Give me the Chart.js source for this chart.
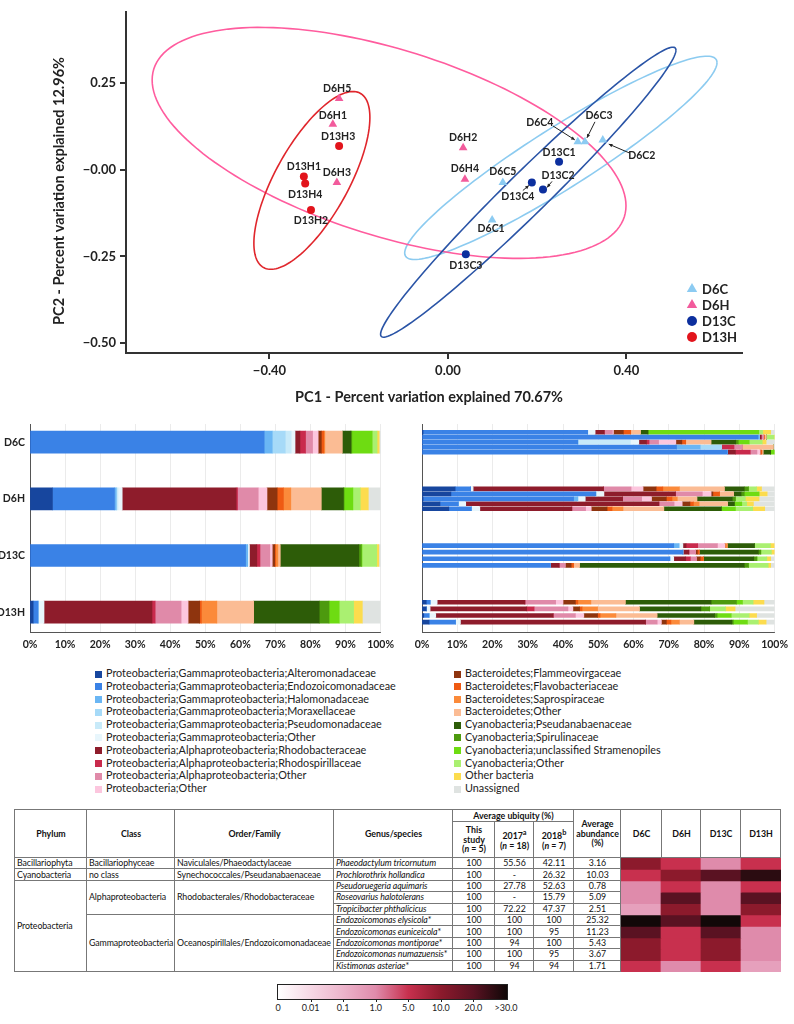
<!DOCTYPE html>
<html>
<head>
<meta charset="utf-8">
<script src="https://cdn.jsdelivr.net/npm/chart.js@4.4.1/dist/chart.umd.min.js"></script>
<style>
  body { margin: 0; background: #fff; font-family: Lato, "Open Sans", sans-serif; }
  #page { position: relative; width: 794px; height: 1024px; overflow: hidden; }
  #page canvas { position: absolute; }
  .leg { position: absolute; top: 667px; font-size: 10.8px; color: #222; }
  .leg div { height: 12.8px; line-height: 12.8px; white-space: nowrap; }
  .leg .sw { display: inline-block; width: 7px; height: 7px; margin-right: 4px; vertical-align: -0.5px; }
  #tbl { position: absolute; left: 14px; top: 809px; width: 766px; border-collapse: collapse; table-layout: fixed;
         font-size: 8.8px; letter-spacing: -0.1px; color: #111; border: 1.5px solid #777; }
  #tbl td, #tbl th { border: 1px solid #777; padding: 0 1px 0 2px; line-height: 9.8px; white-space: nowrap; overflow: visible; }
  #tbl th { font-weight: bold; text-align: center; font-size: 8.8px; letter-spacing: 0; }
  #tbl td.n { text-align: center; letter-spacing: 0; }
  #tbl tr.d { height: 11.4px; }
  #tbl td.heat { border: none; padding: 0; }
  #cbar { position: absolute; left: 277px; top: 984px; width: 229px; height: 14px; border: 1px solid #222; }
  #cbarTicks { position: absolute; left: 0; top: 999px; width: 794px; height: 20px; }
  #cbarTicks span { position: absolute; top: 2px; font-size: 9px; color: #222; transform: translateX(-50%); }
  #cbarTicks i { position: absolute; top: 0; width: 1px; height: 3px; background: #222; }
</style>
</head>
<body>
<div id="page">
  <canvas id="pca" width="794" height="410" style="left:0;top:0"></canvas>
  <canvas id="barMean" width="400" height="250" style="left:0;top:410px"></canvas>
  <canvas id="barRep" width="394" height="250" style="left:400px;top:410px"></canvas>
  <div class="leg" id="legL" style="left:95px"></div>
  <div class="leg" id="legR" style="left:454px"></div>
  <table id="tbl"></table>
  <canvas id="heat"></canvas>
  <div id="cbar"></div>
  <div id="cbarTicks"></div>
</div>
<script>
Chart.defaults.font.family = 'Lato, sans-serif';
Chart.defaults.color = '#222';

// ---- PCA data ----
const d6cIds = ['D6C1', 'D6C2', 'D6C3', 'D6C4', 'D6C5'];
const d6cPC1 = [0.099, 0.347, 0.307, 0.291, 0.123];
const d6cPC2 = [-0.145, 0.085, 0.080, 0.080, -0.037];
const d6hIds = ['D6H1', 'D6H2', 'D6H3', 'D6H4', 'D6H5'];
const d6hPC1 = [-0.258, 0.034, -0.249, 0.038, -0.244];
const d6hPC2 = [0.131, 0.063, -0.037, -0.028, 0.205];
const d13cIds = ['D13C1', 'D13C2', 'D13C3', 'D13C4'];
const d13cPC1 = [0.249, 0.213, 0.040, 0.188];
const d13cPC2 = [0.023, -0.057, -0.244, -0.037];
const d13hIds = ['D13H1', 'D13H2', 'D13H3', 'D13H4'];
const d13hPC1 = [-0.323, -0.307, -0.244, -0.320];
const d13hPC2 = [-0.020, -0.116, 0.068, -0.040];

// ellipses: [centerX, centerY, u.x, u.y, v.x, v.y] (conjugate half axes, data units)
const ellipseD6C = [0.253, 0.034, 0.350, 0.274, 0, 0.103];
const ellipseD6H = [-0.132, 0.077, 0.531, -0.181, 0, 0.279];
const ellipseD13C = [0.180, -0.065, 0.331, 0.409, 0, 0.084];
const ellipseD13H = [-0.305, -0.031, 0.130, 0.181, 0, 0.181];

const pcaXTicks = [-0.4, 0, 0.4];
const pcaXTickLabels = ['\u22120.40', '0.00', '0.40'];
const pcaYTicks = [0.25, 0, -0.25, -0.5];
const pcaYTickLabels = ['0.25', '\u22120.00', '\u22120.25', '\u22120.50'];
const pcaXTitle = 'PC1 - Percent variation explained 70.67%';
const pcaYTitle = 'PC2 - Percent variation explained 12.96%';

// ---- taxa bar data ----
const taxa = [
  'Proteobacteria;Gammaproteobacteria;Alteromonadaceae',
  'Proteobacteria;Gammaproteobacteria;Endozoicomonadaceae',
  'Proteobacteria;Gammaproteobacteria;Halomonadaceae',
  'Proteobacteria;Gammaproteobacteria;Moraxellaceae',
  'Proteobacteria;Gammaproteobacteria;Pseudomonadaceae',
  'Proteobacteria;Gammaproteobacteria;Other',
  'Proteobacteria;Alphaproteobacteria;Rhodobacteraceae',
  'Proteobacteria;Alphaproteobacteria;Rhodospirillaceae',
  'Proteobacteria;Alphaproteobacteria;Other',
  'Proteobacteria;Other',
  'Bacteroidetes;Flammeovirgaceae',
  'Bacteroidetes;Flavobacteriaceae',
  'Bacteroidetes;Saprospiraceae',
  'Bacteroidetes;Other',
  'Cyanobacteria;Pseudanabaenaceae',
  'Cyanobacteria;Spirulinaceae',
  'Cyanobacteria;unclassified Stramenopiles',
  'Cyanobacteria;Other',
  'Other bacteria',
  'Unassigned'
];
const taxaColors = ['#17469e', '#3a82e6', '#6ab6f4', '#a6daf8', '#c8eaf9', '#e8f6fc',
  '#8e1c2b', '#c92a4c', '#e08aa9', '#fcc6de',
  '#8e340e', '#ef5a12', '#fb8a3a', '#fbbc94',
  '#2d5c08', '#4d9a0e', '#6edc12', '#aaf071', '#fcdc4e', '#dfe3e1'];

const groups = ['D6C', 'D6H', 'D13C', 'D13H'];
const meanD6C = [0, 66.8, 2.3, 3.7, 1.7, 1.1, 1.4, 1.6, 2.0, 1.6, 0.9, 0.7, 0.3, 5.0, 2.4, 0.3, 5.8, 1.4, 0.6, 0.4];
const meanD6H = [6.4, 17.7, 0.5, 0, 0.5, 1.2, 32.5, 0.4, 5.9, 2.5, 2.9, 1.8, 2.1, 8.7, 6.3, 0.2, 2.5, 2.1, 2.3, 3.5];
const meanD13C = [0, 61.5, 0.6, 0, 0, 0.5, 2.1, 0.9, 2.8, 0.7, 0.7, 0.3, 0.6, 0.7, 22.4, 0.7, 0.2, 4.2, 0.6, 0.6];
const meanD13H = [0.9, 1.4, 0, 0, 0, 1.7, 30.8, 0.9, 7.4, 2.0, 3.3, 0.5, 4.4, 10.5, 18.7, 2.8, 2.9, 4.1, 2.5, 5.2];

const repD6C = [
  [0.3, 46.7, 0, 0, 0, 2.1, 2.6, 0, 2.3, 0.3, 2.8, 2.1, 0, 2.8, 2.1, 0, 31.4, 1.1, 2.3, 1.2],
  [0, 95.3, 0.4, 0, 0, 0, 0.5, 0, 0.6, 0, 0, 0.3, 0, 0.6, 0, 0, 0, 2.2, 0.2, 0],
  [0, 44.2, 0, 0, 14.9, 2.4, 2.2, 0.7, 2.7, 4.9, 1.7, 1.1, 0, 7.2, 7.0, 0.7, 3.1, 3.7, 1.1, 2.4],
  [0, 72.2, 6.7, 6.1, 0, 0, 0, 3.5, 2.3, 0, 0, 0, 0, 8.9, 0, 0, 0, 0, 0, 0.3],
  [0, 86.6, 0, 0, 0, 0, 2.3, 4.2, 1.9, 0.9, 0, 0.5, 0, 0.4, 2.1, 0, 1.2, 0, 0, 0]
];
const repD6H = [
  [9.4, 4.4, 0, 0, 0, 0.7, 37.0, 0, 7.8, 3.4, 3.7, 1.9, 4.7, 12.8, 5.6, 1.2, 0, 2.3, 1.4, 3.7],
  [8.2, 41.1, 0, 0, 0, 2.3, 20.3, 0, 7.6, 2.5, 0.5, 1.9, 0, 4.0, 2.1, 0.9, 4.2, 0, 2.3, 2.1],
  [0.3, 42.7, 1.2, 0, 0, 2.1, 10.6, 0, 5.4, 2.8, 4.2, 1.6, 1.5, 5.6, 10.0, 0.9, 0, 2.8, 3.9, 4.3],
  [5.1, 5.2, 0, 0, 0, 2.1, 54.8, 0, 4.3, 2.3, 2.2, 1.0, 1.6, 8.1, 1.9, 0, 2.1, 1.4, 1.9, 5.9],
  [7.6, 6.4, 0, 0, 0, 2.4, 26.1, 0, 3.9, 1.6, 4.5, 1.4, 3.1, 11.6, 16.3, 0, 4.0, 4.9, 3.4, 2.8]
];
const repD13C = [
  [0, 71.4, 1.5, 0, 0, 1.1, 0.9, 3.3, 5.6, 2.1, 0, 0, 0.7, 0, 7.7, 0, 0, 4.5, 1.2, 0],
  [0, 74.0, 0, 0, 0, 0, 1.7, 0, 1.9, 0, 0.5, 0.5, 0, 0, 16.8, 0.7, 0, 3.0, 1.0, 0],
  [0, 70.3, 0, 0, 0, 1.1, 3.4, 1.3, 1.7, 0, 1.1, 0.9, 0, 0, 14.3, 0.9, 0, 2.8, 1.1, 1.0],
  [0, 36.4, 0, 0, 0, 0, 2.5, 0, 1.7, 0, 1.7, 0.7, 0, 1.7, 46.7, 1.2, 0, 5.6, 0.7, 1.2]
];
const repD13H = [
  [1.2, 1.1, 0, 0, 0, 2.0, 24.9, 0, 8.7, 2.1, 3.5, 0.7, 3.7, 9.8, 24.3, 7.2, 1.7, 3.0, 3.1, 3.1],
  [1.2, 0, 0, 0, 0, 1.1, 27.4, 2.1, 9.6, 1.4, 1.9, 0.7, 4.4, 11.9, 17.4, 2.5, 0, 4.5, 2.7, 11.3],
  [0.5, 1.5, 0, 0, 0, 1.9, 33.3, 0, 6.3, 2.4, 3.9, 0.7, 4.5, 11.7, 16.3, 0.7, 4.0, 5.1, 2.1, 5.1],
  [2.0, 7.5, 0, 0, 0, 1.4, 52.5, 0, 3.3, 1.2, 1.4, 1.3, 2.4, 4.1, 10.8, 0.4, 4.0, 3.1, 2.2, 2.4]
];
const pctTicks = [0, 10, 20, 30, 40, 50, 60, 70, 80, 90, 100];

// ---- table + heatmap data ----
const tPhylum = [['Bacillariophyta', 1], ['Cyanobacteria', 1], ['Proteobacteria', 8]];
const tClass = [['Bacillariophyceae', 1], ['no class', 1], ['Alphaproteobacteria', 3], ['Gammaproteobacteria', 5]];
const tOrder = [['Naviculales/Phaeodactylaceae', 1], ['Synechococcales/Pseudanabaenaceae', 1],
  ['Rhodobacterales/Rhodobacteraceae', 3], ['Oceanospirillales/Endozoicomonadaceae', 5]];
const species = ['Phaeodactylum tricornutum', 'Prochlorothrix hollandica', 'Pseudoruegeria aquimaris',
  'Roseovarius halotolerans', 'Tropicibacter phthalicicus', 'Endozoicomonas elysicola*',
  'Endozoicomonas euniceicola*', 'Endozoicomonas montiporae*', 'Endozoicomonas numazuensis*', 'Kistimonas asteriae*'];
const ubiqThis = ['100', '100', '100', '100', '100', '100', '100', '100', '100', '100'];
const ubiq2017 = ['55.56', '-', '27.78', '-', '72.22', '100', '100', '94', '100', '94'];
const ubiq2018 = ['42.11', '26.32', '52.63', '15.79', '47.37', '100', '95', '100', '95', '94'];
const avgAbund = ['3.16', '10.03', '0.78', '5.09', '2.51', '25.32', '11.23', '5.43', '3.67', '1.71'];

const heatD6C = [10, 5, 1, 1, 0.3, 32, 20, 10, 10, 5];
const heatD6H = [5, 10, 5, 20, 10, 20, 5, 5, 5, 1];
const heatD13C = [1, 20, 1, 1, 1, 32, 20, 10, 10, 5];
const heatD13H = [5, 26, 5, 20, 10, 5, 1, 1, 1, 0.3];
const heatStops = [0, 0.01, 0.1, 1, 5, 10, 20, 30];
const heatStopLabels = ['0', '0.01', '0.1', '1.0', '5.0', '10.0', '20.0', '>30.0'];
const heatStopColors = ['#ffffff', '#f6d8e5', '#ecb4cb', '#df8bab', '#c8304e', '#8c1a2c', '#5a1222', '#120808'];

// ================= PCA scatter =================
const pcaStyle = {
  D6C: { color: '#8ccbf2', shape: 'triangle', r: 5, ell: '#8ccbf0' },
  D6H: { color: '#f25b9c', shape: 'triangle', r: 5, ell: '#ff5c9e' },
  D13C: { color: '#0c2f9e', shape: 'circle', r: 4, ell: '#2a54a6' },
  D13H: { color: '#e2141c', shape: 'circle', r: 4, ell: '#e0262c' }
};
const labelOffset = {
  D6H5: [-2, -10], D6H1: [0, -9], D13H3: [-1, -9], D13H1: [0, -10], D13H4: [0, 11], D6H3: [0, -10], D13H2: [0, 11],
  D6H2: [0, -10], D6H4: [0, -11], D6C5: [0, -11], D6C1: [-1, 9], D13C3: [0, 11], D13C1: [0, -9],
  D13C4: [-14, 14], D13C2: [15, -14], D6C4: [-38, -19], D6C3: [14, -26], D6C2: [39, 15]
};
const labelArrow = { D6C4: [-25, -16, -3, -2], D6C3: [10, -20, 2, -4], D6C2: [27, 13, 6, 4], D13C2: [9, -8, 4, -2], D13C4: [-9, 8, -3, 3] };

function pts(xs, ys, ids) { return xs.map((v, i) => ({ x: v, y: ys[i], id: ids[i] })); }
const pcaSets = [
  ['D6C', pts(d6cPC1, d6cPC2, d6cIds), ellipseD6C],
  ['D6H', pts(d6hPC1, d6hPC2, d6hIds), ellipseD6H],
  ['D13C', pts(d13cPC1, d13cPC2, d13cIds), ellipseD13C],
  ['D13H', pts(d13hPC1, d13hPC2, d13hIds), ellipseD13H]
];

const pcaDecor = {
  id: 'pcaDecor',
  beforeDatasetsDraw(chart) {
    const { ctx, scales: { x, y } } = chart;
    pcaSets.forEach(([name, , e]) => {
      ctx.save();
      ctx.beginPath();
      for (let k = 0; k <= 160; k++) {
        const t = k / 160 * Math.PI * 2;
        const px = x.getPixelForValue(e[0] + e[2] * Math.cos(t) + e[4] * Math.sin(t));
        const py = y.getPixelForValue(e[1] + e[3] * Math.cos(t) + e[5] * Math.sin(t));
        k ? ctx.lineTo(px, py) : ctx.moveTo(px, py);
      }
      ctx.strokeStyle = pcaStyle[name].ell;
      ctx.lineWidth = 1.6;
      ctx.stroke();
      ctx.restore();
    });
  },
  afterDraw(chart) {
    const { ctx, scales: { x, y } } = chart;
    ctx.save();
    // point labels + arrows
    ctx.font = 'bold 10.5px Lato';
    ctx.fillStyle = '#222';
    ctx.textAlign = 'center';
    ctx.textBaseline = 'middle';
    pcaSets.forEach(([, data]) => data.forEach(p => {
      const px = x.getPixelForValue(p.x), py = y.getPixelForValue(p.y);
      const o = labelOffset[p.id] || [0, -10];
      ctx.fillText(p.id, px + o[0], py + o[1]);
      const a = labelArrow[p.id];
      if (a) {
        const x1 = px + a[0], y1 = py + a[1], x2 = px + a[2], y2 = py + a[3];
        ctx.strokeStyle = '#222'; ctx.lineWidth = 1;
        ctx.beginPath(); ctx.moveTo(x1, y1); ctx.lineTo(x2, y2); ctx.stroke();
        const ang = Math.atan2(y2 - y1, x2 - x1);
        ctx.beginPath();
        ctx.moveTo(x2, y2);
        ctx.lineTo(x2 - 4 * Math.cos(ang - 0.45), y2 - 4 * Math.sin(ang - 0.45));
        ctx.lineTo(x2 - 4 * Math.cos(ang + 0.45), y2 - 4 * Math.sin(ang + 0.45));
        ctx.closePath(); ctx.fill();
      }
    }));
    // legend
    ctx.font = 'bold 13px Lato';
    ctx.textAlign = 'left';
    pcaSets.forEach(([name], i) => {
      const st = pcaStyle[name];
      const ly = 289 + i * 16;
      ctx.fillStyle = st.color;
      Chart.helpers.drawPoint(ctx, { pointStyle: st.shape, radius: st.r + 1, rotation: 0, borderWidth: 0 }, 692, ly);
      ctx.fillStyle = '#222';
      ctx.fillText(name, 702, ly + 1);
    });
    // axis titles
    ctx.font = 'bold 14.5px Lato';
    ctx.textAlign = 'center';
    ctx.fillText(pcaXTitle, 429, 397);
    ctx.translate(59, 191);
    ctx.rotate(-Math.PI / 2);
    ctx.fillText(pcaYTitle, 0, 0);
    ctx.restore();
  }
};

new Chart(document.getElementById('pca'), {
  type: 'scatter',
  data: {
    datasets: pcaSets.map(([name, data]) => ({
      label: name,
      data: data,
      pointStyle: pcaStyle[name].shape,
      pointRadius: pcaStyle[name].r,
      backgroundColor: pcaStyle[name].color,
      borderColor: pcaStyle[name].color,
      borderWidth: 0
    }))
  },
  options: {
    responsive: false, animation: false,
    layout: { padding: { top: 7, right: 52, left: 0, bottom: 0 } },
    plugins: { legend: { display: false }, tooltip: { enabled: false } },
    scales: {
      x: {
        type: 'linear', min: -0.7216, max: 0.659,
        afterBuildTicks: s => { s.ticks = pcaXTicks.map(v => ({ value: v })); },
        afterFit: s => { s.height = 57; },
        ticks: { callback: (v, i) => pcaXTickLabels[i], font: { weight: 'bold', size: 13 }, padding: 4, color: '#222', maxRotation: 0 },
        grid: { drawOnChartArea: false, drawTicks: true, tickLength: 6, color: '#333', lineWidth: 2 },
        border: { color: '#333', width: 2 }
      },
      y: {
        type: 'linear', min: -0.528, max: 0.4545,
        afterBuildTicks: s => { s.ticks = pcaYTicks.map(v => ({ value: v })); },
        afterFit: s => { s.width = 126; },
        ticks: { callback: (v, i) => pcaYTickLabels[i], font: { weight: 'bold', size: 13 }, padding: 4, color: '#222' },
        grid: { drawOnChartArea: false, drawTicks: true, tickLength: 6, color: '#333', lineWidth: 2 },
        border: { color: '#333', width: 2 }
      }
    }
  },
  plugins: [pcaDecor]
});

// ================= stacked taxa bars =================
function barOptions(showLabels, rightPad, yWidth) {
  return {
    indexAxis: 'y', responsive: false, animation: false,
    layout: { padding: { top: 14, right: rightPad, left: 0, bottom: 0 } },
    plugins: { legend: { display: false }, tooltip: { enabled: false } },
    scales: {
      x: {
        type: 'linear', stacked: true, min: 0, max: 100,
        afterBuildTicks: s => { s.ticks = pctTicks.map(v => ({ value: v })); },
        afterFit: s => { s.height = 28; },
        ticks: { callback: v => v + '%', font: { weight: 'bold', size: 10.5 }, padding: 6, color: '#222', maxRotation: 0, autoSkip: false },
        grid: { color: '#e6e6e6', lineWidth: 0.8, drawTicks: false },
        border: { display: true, color: '#555', width: 1 }
      },
      y: {
        type: 'linear', stacked: true, reverse: true, offset: false, min: -0.32, max: 3.35,
        afterBuildTicks: s => { s.ticks = groups.map((g, i) => ({ value: i })); },
        afterFit: s => { s.width = yWidth; },
        ticks: { display: showLabels, callback: v => groups[v], font: { weight: 'bold', size: 10.5 }, padding: 5, color: '#222' },
        grid: { display: false, drawTicks: false, offset: false },
        border: { display: true, color: '#555', width: 1 }
      }
    }
  };
}

const means = [meanD6C, meanD6H, meanD13C, meanD13H];
new Chart(document.getElementById('barMean'), {
  type: 'bar',
  data: {
    datasets: taxa.map((t, k) => ({
      label: t,
      data: means.map((m, g) => ({ x: m[k], y: g })),
      backgroundColor: taxaColors[k], borderWidth: 0, barThickness: 22
    }))
  },
  options: barOptions(true, 13, 30)
});

const reps = [repD6C, repD6H, repD13C, repD13H];
new Chart(document.getElementById('barRep'), {
  type: 'bar',
  data: {
    datasets: taxa.map((t, k) => ({
      label: t,
      data: reps.flatMap((rows, g) => rows.map((row, j) => ({
        x: row[k], y: g + (j - (rows.length - 1) / 2) * 0.35 / (rows.length - 1)
      }))),
      backgroundColor: taxaColors[k], borderWidth: 0, barThickness: 4
    }))
  },
  options: barOptions(false, 14, 22)
});

// legend
taxa.forEach((name, i) => {
  const col = document.getElementById(i < 10 ? 'legL' : 'legR');
  col.insertAdjacentHTML('beforeend', `<div><span class="sw" style="background:${taxaColors[i]}"></span>${name}</div>`);
});

// ================= table =================
const colW = [72, 88, 159, 119, 42, 39, 40, 47, 41, 39, 40, 40];
const tbl = document.getElementById('tbl');
let html = '<colgroup>' + colW.map(w => `<col style="width:${w}px">`).join('') + '</colgroup>';
html += '<tr style="height:12px"><th rowspan="2">Phylum</th><th rowspan="2">Class</th><th rowspan="2">Order/Family</th>' +
  '<th rowspan="2">Genus/species</th><th colspan="3">Average ubiquity (%)</th>' +
  '<th rowspan="2">Average<br>abundance<br>(%)</th>' + groups.map(g => `<th rowspan="2">${g}</th>`).join('') + '</tr>';
html += '<tr style="height:36px"><th>This<br>study<br>(<i>n</i> = 5)</th><th>2017<sup>a</sup><br>(<i>n</i> = 18)</th>' +
  '<th>2018<sup>b</sup><br>(<i>n</i> = 7)</th></tr>';
function spanStarts(list) {
  const m = {}; let r = 0;
  list.forEach(([txt, n]) => { m[r] = [txt, n]; r += n; });
  return m;
}
const pS = spanStarts(tPhylum), cS = spanStarts(tClass), oS = spanStarts(tOrder);
species.forEach((sp, r) => {
  html += '<tr class="d">';
  [pS, cS, oS].forEach(m => { if (m[r]) html += `<td rowspan="${m[r][1]}">${m[r][0]}</td>`; });
  const star = sp.endsWith('*');
  html += `<td><i>${star ? sp.slice(0, -1) : sp}</i>${star ? '*' : ''}</td>`;
  html += `<td class="n">${ubiqThis[r]}</td><td class="n">${ubiq2017[r]}</td><td class="n">${ubiq2018[r]}</td><td class="n">${avgAbund[r]}</td>`;
  if (r === 0) html += `<td class="heat" id="heatCell" rowspan="${species.length}" colspan="4"></td>`;
  html += '</tr>';
});
tbl.innerHTML = html;

// ================= heatmap =================
function hexRgb(h) { return [1, 3, 5].map(i => parseInt(h.slice(i, i + 2), 16)); }
function colorFor(v) {
  const n = heatStops.length;
  if (v >= heatStops[n - 1]) return heatStopColors[n - 1];
  let i = 0;
  while (v > heatStops[i + 1]) i++;
  const a = heatStops[i], b = heatStops[i + 1];
  const f = i === 0 ? (v - a) / (b - a) : (Math.log(v) - Math.log(a)) / (Math.log(b) - Math.log(a));
  const c1 = hexRgb(heatStopColors[i]), c2 = hexRgb(heatStopColors[i + 1]);
  return `rgb(${c1.map((c, k) => Math.round(c + (c2[k] - c) * f)).join(',')})`;
}
const heatCols = [heatD6C, heatD6H, heatD13C, heatD13H];
const pageBox = document.getElementById('page').getBoundingClientRect();
const hb = document.getElementById('heatCell').getBoundingClientRect();
const heatCanvas = document.getElementById('heat');
heatCanvas.width = Math.round(hb.width);
heatCanvas.height = Math.round(hb.height);
heatCanvas.style.left = (hb.left - pageBox.left) + 'px';
heatCanvas.style.top = (hb.top - pageBox.top) + 'px';
new Chart(heatCanvas, {
  type: 'bar',
  data: {
    labels: groups,
    datasets: species.map((sp, r) => ({
      label: sp,
      data: groups.map(() => [r, r + 1]),
      backgroundColor: heatCols.map(col => colorFor(col[r])),
      borderWidth: 0, categoryPercentage: 1, barPercentage: 1
    }))
  },
  options: {
    responsive: false, animation: false,
    layout: { padding: 0 },
    plugins: { legend: { display: false }, tooltip: { enabled: false } },
    scales: {
      x: { display: false, stacked: true },
      y: { display: false, min: 0, max: species.length, reverse: true }
    }
  }
});

// colour bar
const cbar = document.getElementById('cbar');
const span = 228;
cbar.style.background = 'linear-gradient(to right,' +
  heatStopColors.map((c, i) => `${c} ${(i * span / (heatStops.length - 1) / 229 * 100).toFixed(2)}%`).join(',') + ')';
const ticksBox = document.getElementById('cbarTicks');
heatStopLabels.forEach((lab, i) => {
  const x = 278 + i * span / (heatStops.length - 1);
  if (i > 0 && i < heatStopLabels.length - 1) ticksBox.insertAdjacentHTML('beforeend', `<i style="left:${x}px"></i>`);
  ticksBox.insertAdjacentHTML('beforeend', `<span style="left:${x}px;top:3px">${lab}</span>`);
});
</script>
</body>
</html>
